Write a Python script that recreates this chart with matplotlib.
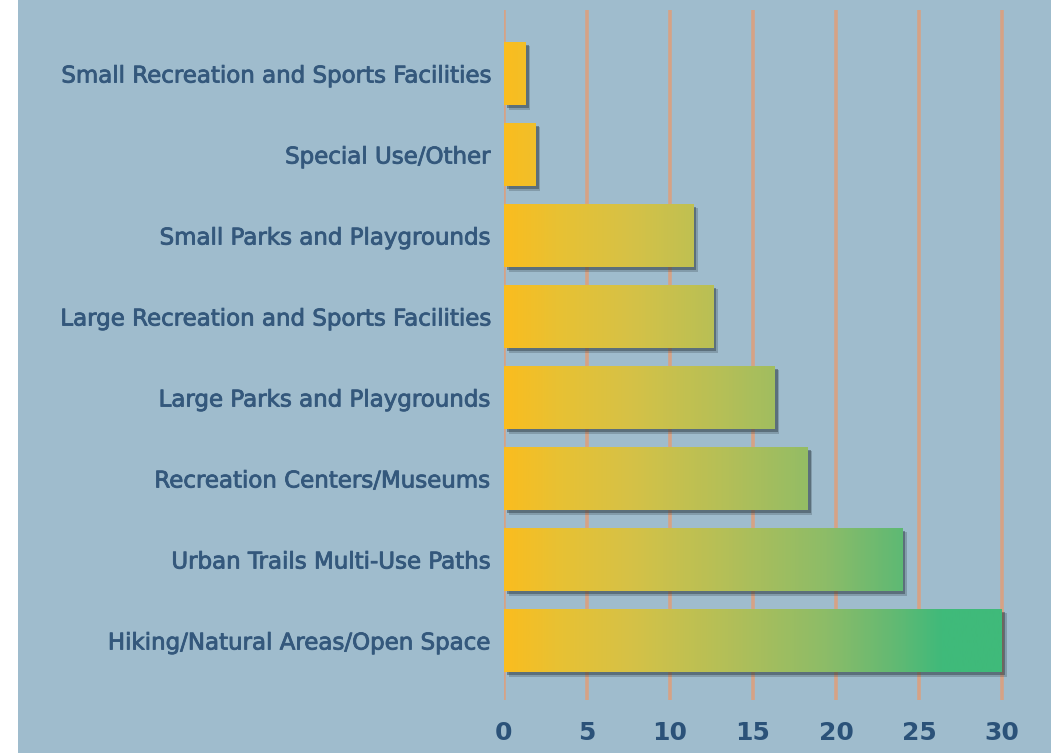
import matplotlib.pyplot as plt
import matplotlib.transforms as mtransforms
import matplotlib.patheffects as pe
from matplotlib.colors import LinearSegmentedColormap
from matplotlib.patches import Rectangle
import numpy as np

categories = [
    "Hiking/Natural Areas/Open Space",
    "Urban Trails Multi-Use Paths",
    "Recreation Centers/Museums",
    "Large Parks and Playgrounds",
    "Large Recreation and Sports Facilities",
    "Small Parks and Playgrounds",
    "Special Use/Other",
    "Small Recreation and Sports Facilities",
]
values = [30.0, 24.0, 18.3, 16.3, 12.6, 11.4, 1.9, 1.3]
xticks = [0, 5, 10, 15, 20, 25, 30]

BG = "#9fbccd"
TEXT = "#34587c"
GRID = "#d6a285"

# gradient stops along the value axis
grad_stops = [(0.0, "#fabd1f"), (0.1, "#e9c132"), (0.25, "#d6c246"),
              (0.45, "#b3bf58"), (0.65, "#8cbc68"), (0.8, "#5eb974"),
              (0.88, "#40ba7a"), (1.0, "#3fba7a")]
cmap = LinearSegmentedColormap.from_list("bars", grad_stops)

W, H = 1051, 753
fig = plt.figure(figsize=(W / 100, H / 100), dpi=100, facecolor=BG)
# white strip on the far left
fig.patches.append(Rectangle((0, 0), 18 / W, 1, transform=fig.transFigure,
                             facecolor="white", edgecolor="none", zorder=-10))

ax = fig.add_axes([504 / W, (H - 700) / H, (W - 504) / W, 690 / H])
ax.set_facecolor("none")

y = np.arange(len(categories))
h = 0.78

# shadows (two layers for a soft edge)
for off, a in [(4.5, 0.25), (3, 0.45)]:
    shadow_tr = mtransforms.offset_copy(ax.transData, fig=fig, x=off, y=-off, units="dots")
    ax.barh(y, values, height=h, color="#2c3a42", alpha=a, transform=shadow_tr, zorder=2)

bars = ax.barh(y, values, height=h, facecolor="none", edgecolor="none", zorder=3)
grad = np.linspace(0, 1, 400).reshape(1, -1)
for b in bars:
    im = ax.imshow(grad, cmap=cmap, aspect="auto", extent=(0, 30, -1, 8),
                   interpolation="bilinear", zorder=3)
    im.set_clip_path(b)
ax.set_xlim(0, 547 / 16.6)
ax.set_ylim(-0.735, 7.784)

ax.set_xticks(xticks)
ax.set_yticks(y)
ax.set_yticklabels(categories, fontsize=16.5, color=TEXT, family="DejaVu Sans")
for lbl in ax.get_yticklabels():
    lbl.set_path_effects([pe.withStroke(linewidth=0.6, foreground=TEXT)])
ax.xaxis.grid(True, color=GRID, linewidth=2.6, zorder=1)
ax.set_axisbelow(True)
for lbl in ax.get_xticklabels():
    lbl.set_fontweight("bold")
ax.tick_params(axis="x", length=0, pad=15, labelsize=18, labelcolor="#2b5279")
ax.tick_params(axis="y", length=0, pad=10)
for s in ax.spines.values():
    s.set_visible(False)

fig.savefig("out.png", dpi=100, facecolor=BG)
